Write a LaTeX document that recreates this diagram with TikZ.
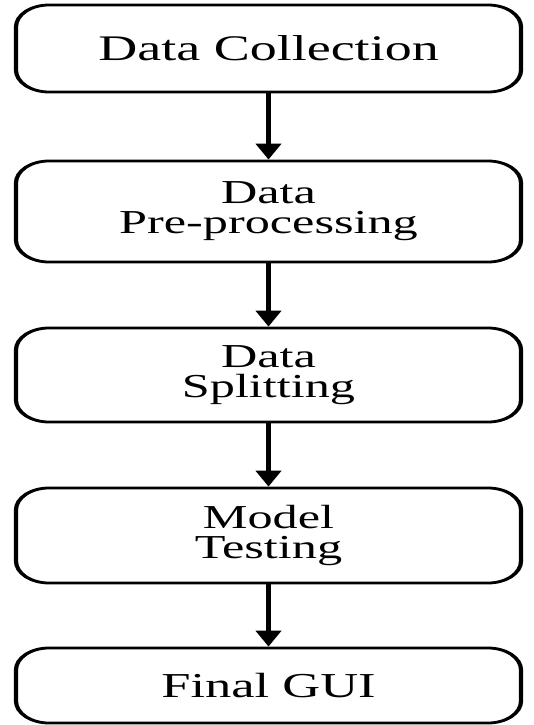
\documentclass[tikz,border=0pt]{standalone}
\usepackage{fontspec}
\setmainfont{Liberation Serif}
\usetikzlibrary{arrows.meta}
\begin{document}
\begin{tikzpicture}[x=1pt,y=-1pt]
\fill[white] (0,0) rectangle (533,725);
\useasboundingbox (0,0) rectangle (533,725);
\begin{scope}[transform canvas={xscale=1.5},
  box/.style={draw=black, line width=2.8pt, rounded corners=22pt, minimum width=336.7pt, align=center, inner sep=0pt},
  small/.style={font=\fontsize{33.5}{30}\selectfont},
  arr/.style={line width=2.8pt, -{Triangle[width=16.7pt,length=16pt]}}]
\node[box, font=\fontsize{36}{30}\selectfont, minimum height=87pt] (b1) at (179,48.5) {Data Collection};
\node[box, small, minimum height=101pt] (b2) at (179,211.5) {Data\\Pre-processing};
\node[box, small, minimum height=94pt] (b3) at (179,375) {Data\\Splitting};
\node[box, small, minimum height=95pt] (b4) at (179,535.5) {Model\\Testing};
\node[box, font=\fontsize{35}{30}\selectfont, minimum height=75pt] (b5) at (179,685.5) {Final GUI};
\draw[arr] (b1) -- (b2);
\draw[arr] (b2) -- (b3);
\draw[arr] (b3) -- (b4);
\draw[arr] (b4) -- (b5);
\end{scope}
\end{tikzpicture}
\end{document}
